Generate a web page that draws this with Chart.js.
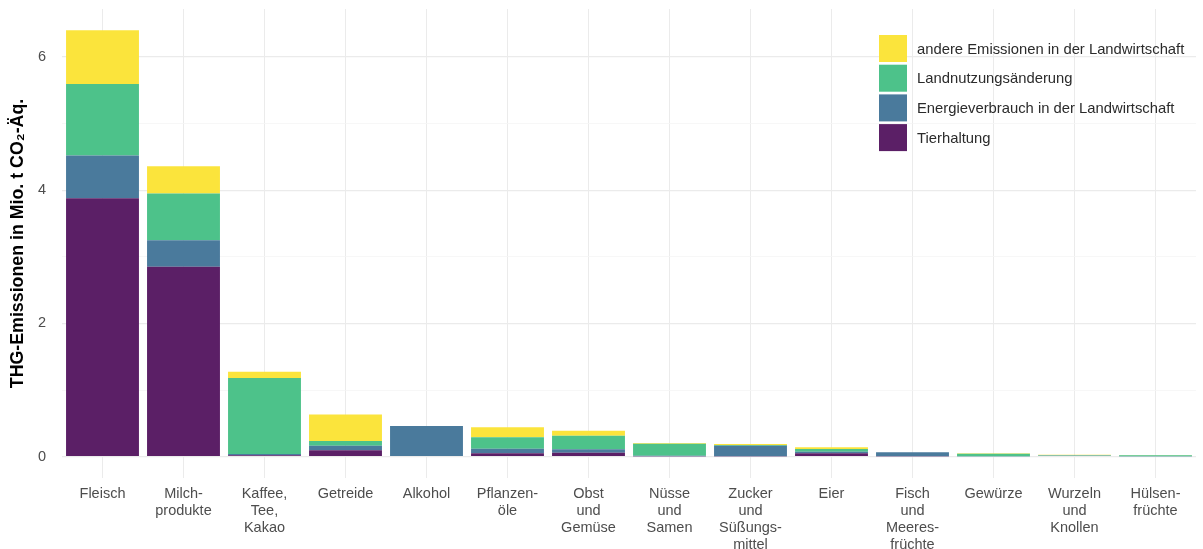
<!DOCTYPE html>
<html>
<head>
<meta charset="utf-8">
<script src="https://cdn.jsdelivr.net/npm/chart.js@4"></script>
<style>
  html, body { margin: 0; padding: 0; background: #ffffff; }
  #wrap { width: 1203px; height: 549px; }
</style>
</head>
<body>
<div id="wrap"><canvas id="chart" width="1203" height="549"></canvas></div>
<script>
// --- Daten ---
const categories = [
    ['Fleisch'], ['Milch-', 'produkte'], ['Kaffee,', 'Tee,', 'Kakao'], ['Getreide'], ['Alkohol'],
    ['Pflanzen-', 'öle'], ['Obst', 'und', 'Gemüse'], ['Nüsse', 'und', 'Samen'],
    ['Zucker', 'und', 'Süßungs-', 'mittel'], ['Eier'], ['Fisch', 'und', 'Meeres-', 'früchte'],
    ['Gewürze'], ['Wurzeln', 'und', 'Knollen'], ['Hülsen-', 'früchte']
];
const tierhaltung = [3.88, 2.85, 0.02, 0.095, 0.01, 0.05, 0.06, 0.005, 0.005, 0.05, 0.005, 0.0, 0.01, 0.0];
const energieverbrauch = [0.64, 0.40, 0.02, 0.07, 0.45, 0.07, 0.05, 0.01, 0.16, 0.025, 0.06, 0.005, 0.005, 0.005];
const landnutzung = [1.075, 0.70, 1.14, 0.07, 0.0, 0.17, 0.205, 0.18, 0.01, 0.04, 0.0, 0.04, 0.005, 0.015];
const andere = [0.805, 0.41, 0.095, 0.40, 0.0, 0.15, 0.075, 0.01, 0.015, 0.025, 0.0, 0.005, 0.01, 0.005];
const yTicks = [0, 1, 2, 3, 4, 5, 6];

const FONT = '"Liberation Sans", Arial, sans-serif';

// Legende im Plotbereich oben rechts (umgekehrte Reihenfolge wie ggplot)
const legendPlugin = {
    id: 'innerLegend',
    afterDraw(chart) {
        const ctx = chart.ctx;
        const sets = chart.data.datasets.slice().reverse();
        const x0 = 879, y0 = 35, box = 28, boxH = 27, step = 29.7;
        ctx.save();
        ctx.font = '14.8px ' + FONT;
        ctx.textBaseline = 'middle';
        sets.forEach((ds, i) => {
            const y = y0 + i * step;
            ctx.fillStyle = ds.backgroundColor;
            ctx.fillRect(x0, y, box, boxH);
            ctx.fillStyle = '#2b2b2b';
            ctx.fillText(ds.label, x0 + 38, y + boxH / 2 + 1);
        });
        ctx.restore();
    }
};

function initChart() {
    const ctx = document.getElementById('chart').getContext('2d');
    new Chart(ctx, {
        type: 'bar',
        data: {
            labels: categories,
            datasets: [
                { label: 'Tierhaltung', data: tierhaltung, backgroundColor: '#5b1f66' },
                { label: 'Energieverbrauch in der Landwirtschaft', data: energieverbrauch, backgroundColor: '#4a7a9c' },
                { label: 'Landnutzungsänderung', data: landnutzung, backgroundColor: '#4dc28a' },
                { label: 'andere Emissionen in der Landwirtschaft', data: andere, backgroundColor: '#fbe43c' }
            ]
        },
        options: {
            responsive: false,
            animation: false,
            layout: { padding: { top: 9, right: 7, left: 0, bottom: 0 } },
            datasets: { bar: { barPercentage: 0.9, categoryPercentage: 1.0, borderWidth: 0 } },
            plugins: {
                legend: { display: false },
                tooltip: { enabled: false }
            },
            scales: {
                x: {
                    stacked: true,
                    grid: { offset: false, drawTicks: false, color: '#ebebeb', lineWidth: 1 },
                    border: { display: false },
                    ticks: {
                        color: '#4d4d4d',
                        font: { family: FONT, size: 14.5, lineHeight: 1.17 },
                        padding: 8,
                        maxRotation: 0,
                        autoSkip: false
                    },
                    afterFit: (scale) => { scale.height = 71; }
                },
                y: {
                    stacked: true,
                    min: -0.32,
                    max: 6.72,
                    afterBuildTicks: (axis) => { axis.ticks = yTicks.map(v => ({ value: v })); },
                    grid: {
                        drawTicks: false,
                        color: (c) => (c.tick && c.tick.value % 2 === 0) ? '#ebebeb' : '#f5f5f5',
                        lineWidth: (c) => (c.tick && c.tick.value % 2 === 0) ? 1.2 : 0.8
                    },
                    border: { display: false },
                    ticks: {
                        color: '#4d4d4d',
                        font: { family: FONT, size: 14.5 },
                        padding: 16,
                        callback: (v) => (v % 2 === 0 ? String(v) : '')
                    },
                    title: {
                        display: true,
                        text: 'THG-Emissionen in Mio. t CO₂-Äq.',
                        color: '#000000',
                        font: { family: FONT, size: 17.8, weight: 'bold' },
                        padding: { top: 7, bottom: 0 }
                    },
                    afterFit: (scale) => {
                        scale.width = 62;
                        scale.paddingTop = 0;
                        scale.paddingBottom = 0;
                    }
                }
            }
        },
        plugins: [legendPlugin]
    });
}

initChart();
</script>
</body>
</html>
